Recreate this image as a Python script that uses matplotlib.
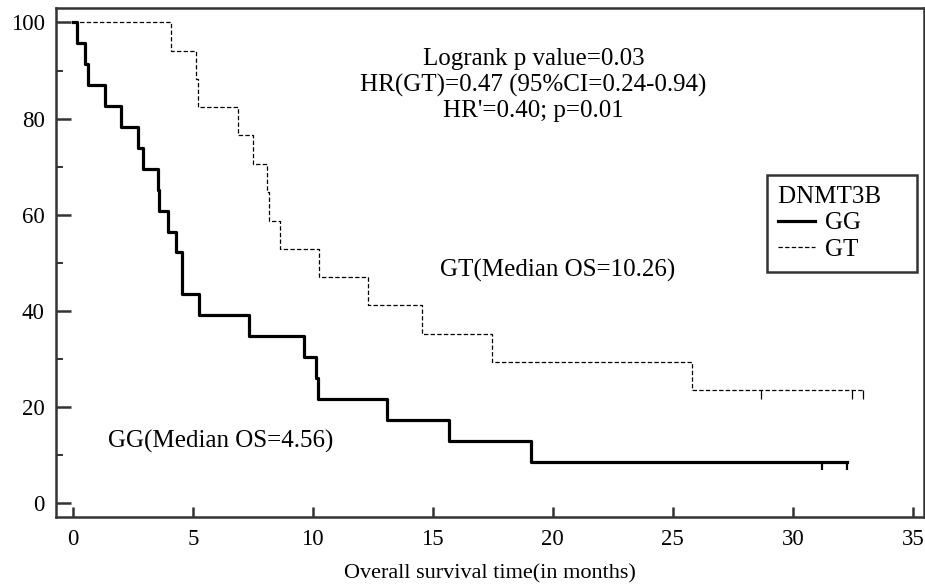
import matplotlib
matplotlib.use("Agg")
import matplotlib.pyplot as plt
from matplotlib.ticker import MultipleLocator

# GG genotype (solid): event times (months) and survival (%)
gg_time = [0, 0.19, 0.51, 0.62, 1.35, 2.0, 2.71, 2.94, 3.54, 3.6, 3.98, 4.3,
           4.56, 5.27, 7.35, 9.65, 10.14, 10.23, 13.08, 15.68, 19.1, 32.25]
gg_surv = [100, 95.7, 91.3, 87.0, 82.6, 78.3, 73.9, 69.6, 65.2, 60.9, 56.5, 52.2,
           43.5, 39.1, 34.8, 30.4, 26.1, 21.7, 17.4, 13.0, 8.7, 8.7]
gg_cens = [31.23, 32.25]

# GT genotype (dashed)
gt_time = [0, 4.1, 5.14, 5.2, 6.87, 7.53, 8.08, 8.18, 8.64, 10.26, 12.29,
           14.54, 17.48, 25.82, 32.94]
gt_surv = [100, 94.1, 88.2, 82.4, 76.5, 70.6, 64.7, 58.8, 52.9, 47.1, 41.2,
           35.3, 29.4, 23.5, 23.5]
gt_cens = [28.68, 32.46, 32.94]

plt.rcParams['font.family'] = ['Liberation Serif', 'DejaVu Serif']
axcol = '#333333'

fig = plt.figure(figsize=(9.25, 5.88), dpi=100)
ax = fig.add_axes([0.0605, 0.1213, 0.9385, 0.8651])

ax.step(gg_time, gg_surv, where='post', color='black', lw=2.3, label='GG')
ax.step(gt_time, gt_surv, where='post', color='black', lw=0.9,
        linestyle=(0, (3.5, 1.8)), label='GT')

# censor marks hang below the curve
ax.vlines(gg_cens, gg_surv[-1] - 1.7, gg_surv[-1], color='black', lw=1.6)
ax.vlines(gt_cens, gt_surv[-1] - 1.7, gt_surv[-1], color='black', lw=0.9)

ax.set_xlim(-0.7, 35.47)
ax.set_ylim(-2.74, 103.0)
ax.set_xticks([0, 5, 10, 15, 20, 25, 30, 35])
ax.set_yticks([0, 20, 40, 60, 80, 100])
ax.yaxis.set_minor_locator(MultipleLocator(10))

for s in ax.spines.values():
    s.set_color(axcol)
    s.set_linewidth(1.8)

ax.tick_params(axis='y', which='major', direction='in', length=11, width=1.8,
               color=axcol, labelsize=16.5, pad=8)
ax.tick_params(axis='y', which='minor', direction='in', length=5, width=1.4,
               color=axcol)
ax.tick_params(axis='x', which='major', direction='in', length=7.5, width=1.8,
               color=axcol, labelsize=16.5, pad=9)

ax.set_xlabel('Overall survival time(in months)', fontsize=16, labelpad=10)

ax.text(19.2, 87.0, "Logrank p value=0.03\nHR(GT)=0.47 (95%CI=0.24-0.94)\nHR'=0.40; p=0.01",
        ha='center', va='center', multialignment='center', fontsize=18,
        linespacing=1.2)
ax.text(20.2, 48.5, 'GT(Median OS=10.26)', ha='center', va='center', fontsize=18)
ax.text(6.17, 12.85, 'GG(Median OS=4.56)', ha='center', va='center', fontsize=18)

leg = ax.legend(title='DNMT3B    ', loc='upper right', bbox_to_anchor=(0.992, 0.672),
                fontsize=18, title_fontsize=18, handlelength=1.5, handletextpad=0.4,
                fancybox=False, framealpha=1, borderpad=0.45, labelspacing=0.15,
                alignment='left', borderaxespad=0)
leg.get_frame().set_edgecolor(axcol)
leg.get_frame().set_linewidth(1.8)

fig.savefig('out.png', dpi=100)
